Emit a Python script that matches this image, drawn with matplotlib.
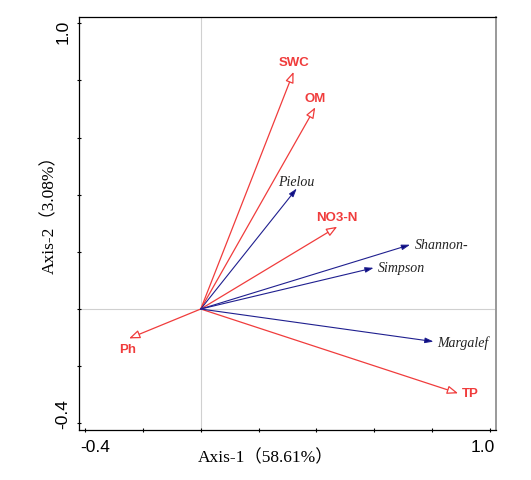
import matplotlib
matplotlib.use("Agg")

import matplotlib.pyplot as plt
import matplotlib.transforms as mtransforms

# environmental factors (red open arrows)
env_names = ["SWC", "OM", "NO3-N", "TP", "Ph"]
env_x = [0.321, 0.396, 0.472, 0.890, -0.248]
env_y = [0.830, 0.706, 0.288, -0.295, -0.103]

# diversity indices (blue filled arrows)
spp_names = ["Pielou", "Shannon-", "Simpson", "Margalef"]
spp_x = [0.332, 0.724, 0.598, 0.805]
spp_y = [0.422, 0.225, 0.144, -0.114]

tick_vals = [-0.4, -0.2, 0.0, 0.2, 0.4, 0.6, 0.8, 1.0]
tick_text = ["-0.4", "", "", "", "", "", "", "1.0"]
ytick_vals = [-0.4, -0.2, 0.0, 0.2, 0.4, 0.6, 0.8, 1.0]

xlabel = "Axis-1\uff0858.61%\uff09"
ylabel = "Axis-2\uff083.08%\uff09"

RED = "#f03c3c"
BLUE = "#1f1f8f"
HEAD_BLUE = "#0a0a80"

# label placement (pixels offset from arrow tip, alignment)
env_lab = [((0, 10), "center"), ((0, 9), "center"), ((0, 10), "center"),
           ((4, 0), "left"), ((-1, -11), "center")]
spp_lab = [((0, 7), "center"), ((5, 0), "left"), ((4, 0), "left"), ((4, -1), "left")]

fig = plt.figure(figsize=(5.31, 4.81), dpi=100)
ax = fig.add_axes([79.3 / 531, 1 - 431 / 481, (496 - 79.3) / 531, (431 - 18.3) / 481])
ax.set_xlim(-0.42, 1.021)
ax.set_ylim(-0.4235, 1.021)

ax.axhline(0, color="#d0d0d0", lw=0.8, zorder=0)
ax.axvline(0, color="#d0d0d0", lw=0.8, zorder=0)

for i, name in enumerate(env_names):
    ax.annotate("", xy=(env_x[i], env_y[i]), xytext=(0, 0),
                arrowprops=dict(arrowstyle="-|>,head_length=0.65,head_width=0.25",
                                ec=RED, fc="white", lw=0.9, mutation_scale=10,
                                shrinkA=0, shrinkB=0))
    off, ha = env_lab[i]
    ax.annotate(name, xy=(env_x[i], env_y[i]), xytext=off, textcoords="offset pixels",
                ha=ha, va="center", color=RED, fontsize=9.5, fontweight="bold",
                family="Liberation Sans")

for i, name in enumerate(spp_names):
    ax.annotate("", xy=(spp_x[i], spp_y[i]), xytext=(0, 0),
                arrowprops=dict(arrowstyle="-|>,head_length=0.5,head_width=0.16",
                                ec=BLUE, fc=HEAD_BLUE, lw=0.8, mutation_scale=10,
                                shrinkA=0, shrinkB=0))
    off, ha = spp_lab[i]
    ax.annotate(name, xy=(spp_x[i], spp_y[i]), xytext=off, textcoords="offset pixels",
                ha=ha, va="center", color="#222222", fontsize=10, style="italic",
                family="Liberation Serif")

for side in ["left", "bottom", "top"]:
    ax.spines[side].set_color("black")
    ax.spines[side].set_linewidth(0.9)
ax.spines["right"].set_color("#999999")
ax.spines["right"].set_linewidth(1.4)

ax.set_xticks(tick_vals)
ax.set_xticklabels(tick_text, fontsize=12.5, family="Liberation Sans")
ax.set_yticks(ytick_vals)
ax.set_yticklabels(tick_text, fontsize=12.5, family="Liberation Sans",
                   rotation=90, va="center")
ax.tick_params(axis="both", direction="inout", length=3, width=0.8, pad=5)

labs = ax.get_xticklabels()
labs[0].set_transform(labs[0].get_transform() +
                      mtransforms.ScaledTranslation(10 / 100, 0, fig.dpi_scale_trans))
labs[-1].set_transform(labs[-1].get_transform() +
                       mtransforms.ScaledTranslation(-7 / 100, 0, fig.dpi_scale_trans))
labs = ax.get_yticklabels()
labs[0].set_transform(labs[0].get_transform() +
                      mtransforms.ScaledTranslation(0, 10 / 100, fig.dpi_scale_trans))
labs[-1].set_transform(labs[-1].get_transform() +
                       mtransforms.ScaledTranslation(0, -8 / 100, fig.dpi_scale_trans))

ax.set_xlabel(xlabel, fontsize=12.5, family=["Liberation Serif", "Noto Sans CJK SC"])
ax.set_ylabel(ylabel, fontsize=12.5, family=["Liberation Serif", "Noto Sans CJK SC"])
ax.xaxis.set_label_coords(0.4476, -0.045)
ax.yaxis.set_label_coords(-0.05, 0.535)

fig.savefig("out.png", dpi=100)
